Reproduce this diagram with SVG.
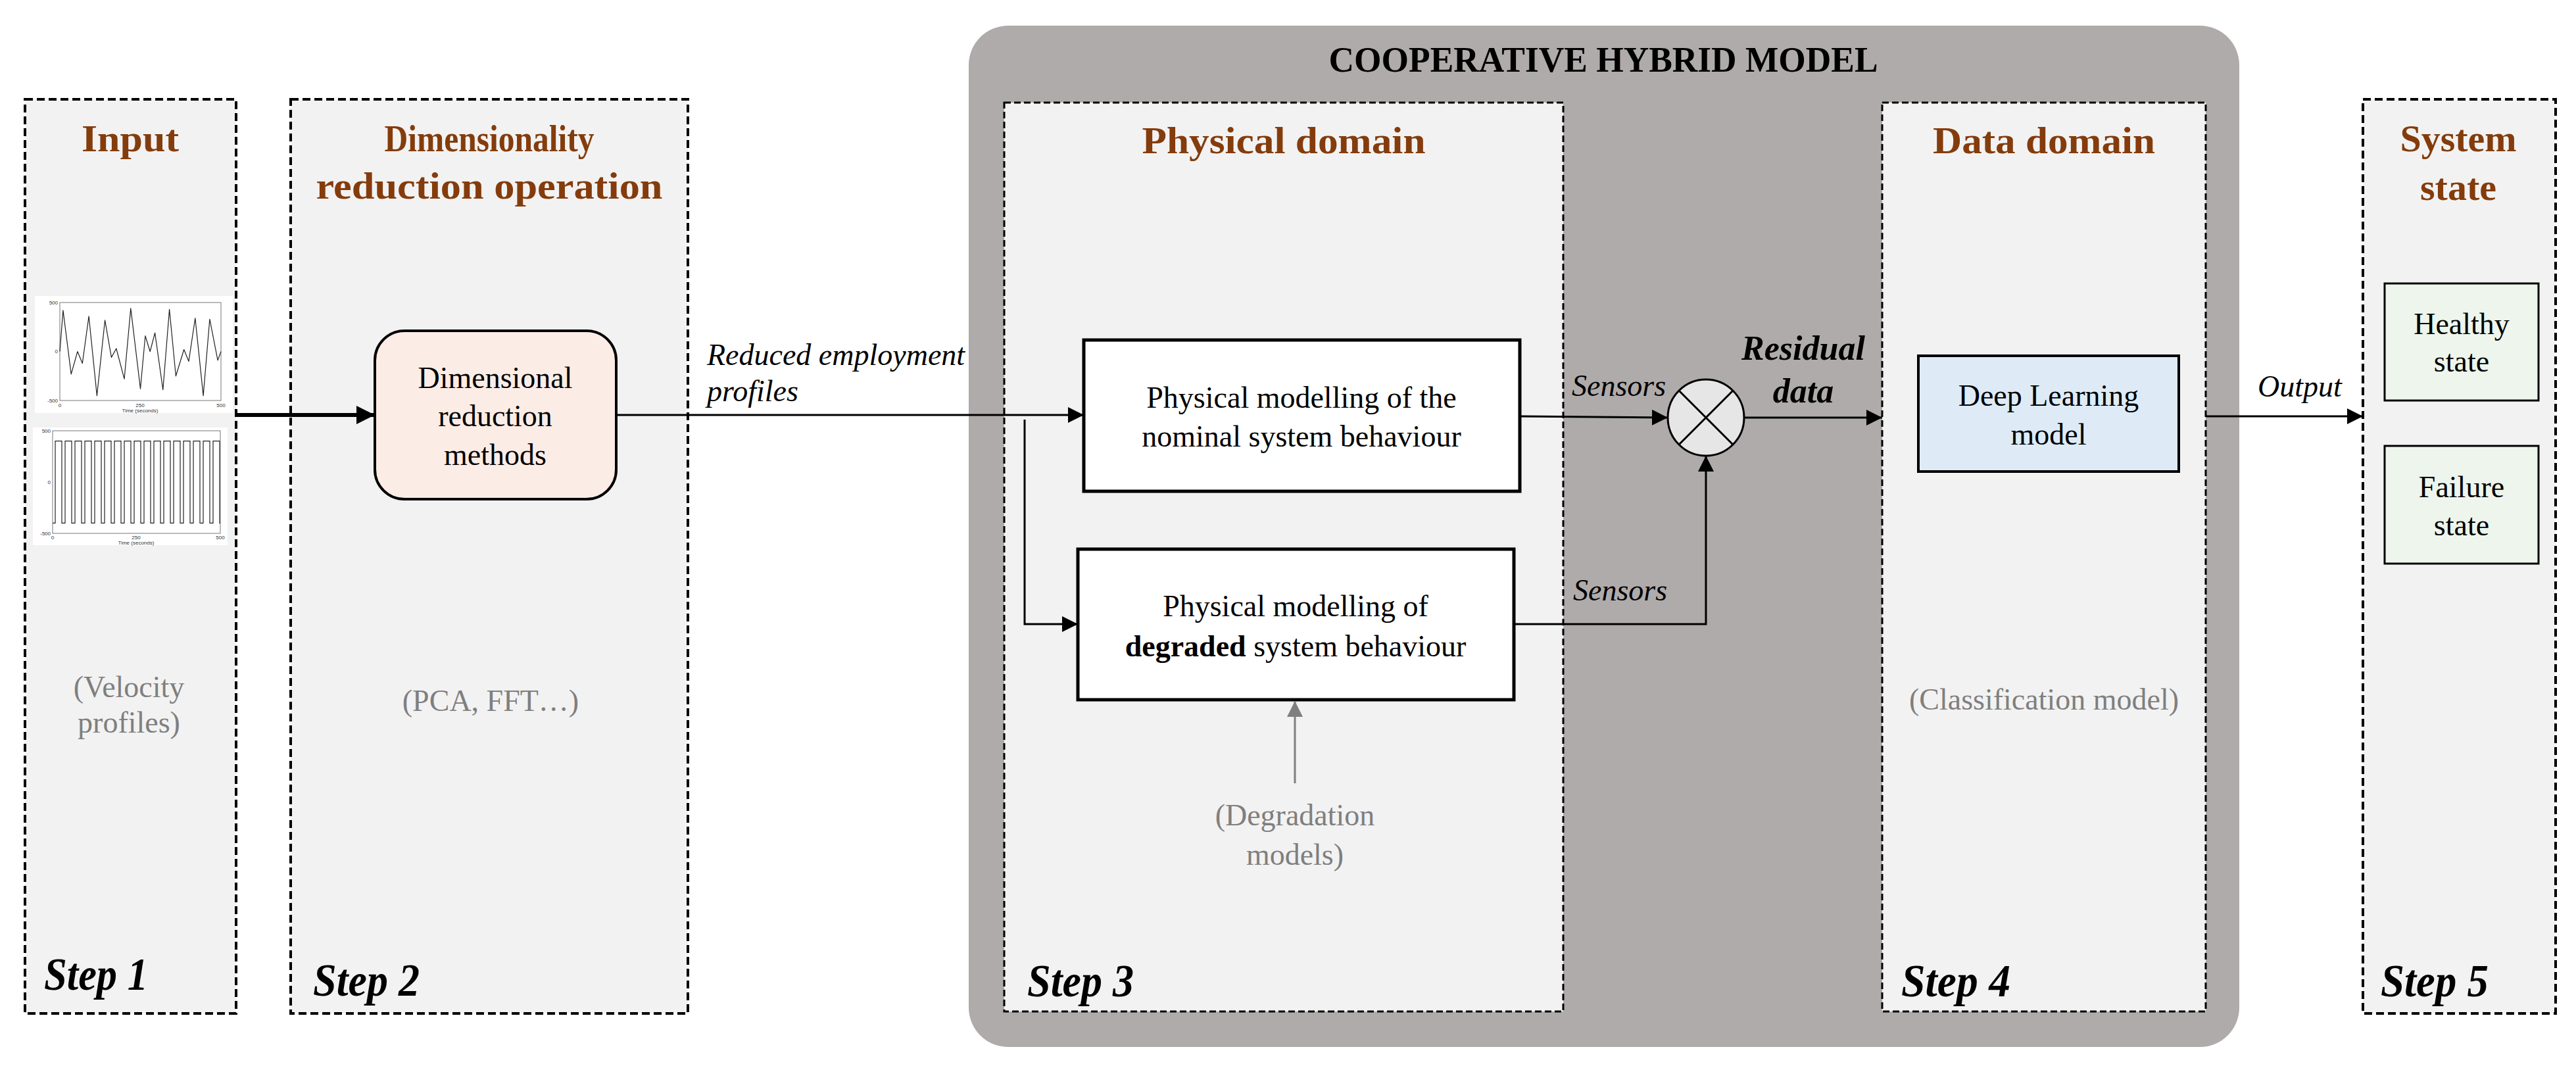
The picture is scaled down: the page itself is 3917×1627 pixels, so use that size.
<svg xmlns="http://www.w3.org/2000/svg" width="3917" height="1627" viewBox="0 0 3917 1627">
<style>
.stage{fill:#F2F2F2;stroke:#000;stroke-width:4;stroke-dasharray:12 6}
.stage2{fill:#F2F2F2;stroke:#000;stroke-width:3;stroke-dasharray:10 5}
.title{font-family:"Liberation Serif",serif;font-weight:bold;fill:#843C0C;font-size:58px;text-anchor:middle}
.step{font-family:"Liberation Serif",serif;font-weight:bold;font-style:italic;fill:#000;font-size:70px}
.t{font-family:"Liberation Serif",serif;fill:#000;font-size:46px;text-anchor:middle}
.g{font-family:"Liberation Serif",serif;fill:#7F7F7F;font-size:46px;text-anchor:middle}
.it{font-family:"Liberation Serif",serif;font-style:italic;fill:#000;font-size:46px}
.box{stroke:#000;stroke-width:5}
.ln{fill:none;stroke:#000;stroke-width:3}
.tick{font-family:"Liberation Sans",sans-serif;font-size:8px;fill:#333}
</style>
<defs>
<marker id="ah" viewBox="0 0 10 10" refX="10" refY="5" markerWidth="6" markerHeight="6" markerUnits="userSpaceOnUse" orient="auto"><path d="M0,0 L10,5 L0,10 z" fill="#000"/></marker>
<marker id="a" viewBox="0 0 10 10" refX="10" refY="5" markerWidth="24" markerHeight="24" markerUnits="userSpaceOnUse" orient="auto"><path d="M0,0 L10,5 L0,10 z" fill="#000"/></marker>
<marker id="ab" viewBox="0 0 10 10" refX="10" refY="5" markerWidth="28" markerHeight="28" markerUnits="userSpaceOnUse" orient="auto"><path d="M0,0 L10,5 L0,10 z" fill="#000"/></marker>
<marker id="ag" viewBox="0 0 10 10" refX="10" refY="5" markerWidth="24" markerHeight="24" markerUnits="userSpaceOnUse" orient="auto"><path d="M0,0 L10,5 L0,10 z" fill="#7F7F7F"/></marker>
</defs>
<rect width="3917" height="1627" fill="#fff"/>

<g id="cooperative-hybrid-model">
<rect x="1473" y="39" width="1932" height="1553" rx="60" fill="#AFABAB"/>
<text x="2438" y="109" font-family="Liberation Serif,serif" font-weight="bold" font-size="54" text-anchor="middle" textLength="835" lengthAdjust="spacingAndGlyphs">COOPERATIVE HYBRID MODEL</text>
</g>

<g id="step1-input">
<rect class="stage" x="38" y="151" width="321" height="1390"/>
<text class="title" x="198" y="230" textLength="148" lengthAdjust="spacingAndGlyphs">Input</text>
<g id="plot1">
<rect x="53" y="450" width="301" height="178" fill="#fff"/>
<rect x="91" y="460" width="245" height="149" fill="none" stroke="#555" stroke-width="0.8"/>
<polyline fill="none" stroke="#222" stroke-width="1.2" stroke-linejoin="round" points="91,534.5 95.9,471.9 108.2,568.8 117.9,534.5 125.3,552.4 135.1,480.9 147.4,601.6 159.6,486.8 169.4,543.4 176.8,530 189,576.2 198.8,468.9 213.5,591.1 220.9,510.7 228.2,534.5 235.6,506.2 247.8,592.6 257.6,470.4 267.4,571.8 279.7,531.5 287,549.4 296.8,483.8 309.1,601.6 318.9,485.3 331.1,547.9 336,534.5"/>
<text class="tick" x="88" y="463" text-anchor="end">500</text>
<text class="tick" x="88" y="537" text-anchor="end">0</text>
<text class="tick" x="88" y="612" text-anchor="end">-500</text>
<text class="tick" x="91" y="619" text-anchor="middle">0</text>
<text class="tick" x="213" y="619" text-anchor="middle">250</text>
<text class="tick" x="336" y="619" text-anchor="middle">500</text>
<text class="tick" x="213" y="627" text-anchor="middle">Time (seconds)</text>
</g>
<g id="plot2">
<rect x="50" y="650" width="296" height="179" fill="#fff"/>
<rect x="80" y="655" width="255" height="156" fill="none" stroke="#555" stroke-width="0.8"/>
<path fill="none" stroke="#222" stroke-width="1.2" d="M80,795.4 h4 v-124.8 h10 v124.8 h5 v-124.8 h10 v124.8 h5 v-124.8 h10 v124.8 h5 v-124.8 h10 v124.8 h5 v-124.8 h10 v124.8 h5 v-124.8 h10 v124.8 h5 v-124.8 h10 v124.8 h5 v-124.8 h10 v124.8 h5 v-124.8 h10 v124.8 h5 v-124.8 h10 v124.8 h5 v-124.8 h10 v124.8 h5 v-124.8 h10 v124.8 h5 v-124.8 h10 v124.8 h5 v-124.8 h10 v124.8 h5 v-124.8 h10 v124.8 h5 v-124.8 h10 v124.8 h5 v-124.8 h10 v124.8 h1"/>
<text class="tick" x="77" y="658" text-anchor="end">500</text>
<text class="tick" x="77" y="736" text-anchor="end">0</text>
<text class="tick" x="77" y="814" text-anchor="end">-500</text>
<text class="tick" x="80" y="820" text-anchor="middle">0</text>
<text class="tick" x="207" y="820" text-anchor="middle">250</text>
<text class="tick" x="335" y="820" text-anchor="middle">500</text>
<text class="tick" x="207" y="828" text-anchor="middle">Time (seconds)</text>
</g>
<text class="g" x="196" y="1060">(Velocity</text>
<text class="g" x="196" y="1114">profiles)</text>
<text class="step" x="67" y="1505" textLength="158" lengthAdjust="spacingAndGlyphs">Step 1</text>
</g>

<g id="step2-dimensionality">
<rect class="stage" x="442" y="151" width="604" height="1390"/>
<text class="title" x="744" y="230" textLength="319" lengthAdjust="spacingAndGlyphs">Dimensionality</text>
<text class="title" x="744" y="302" textLength="527" lengthAdjust="spacingAndGlyphs">reduction operation</text>
<rect x="570" y="503" width="367" height="256" rx="45" fill="#FCECE6" stroke="#000" stroke-width="4"/>
<text class="t" x="753" y="590" font-size="49">Dimensional</text>
<text class="t" x="753" y="648" font-size="49">reduction</text>
<text class="t" x="753" y="707" font-size="49">methods</text>
<text class="g" x="746" y="1081">(PCA, FFT…)</text>
<text class="step" x="476" y="1514" textLength="162" lengthAdjust="spacingAndGlyphs">Step 2</text>
</g>

<g id="step3-physical">
<rect class="stage2" x="1527" y="156" width="850" height="1382"/>
<text class="title" x="1952" y="233" textLength="431" lengthAdjust="spacingAndGlyphs">Physical domain</text>
<g id="nominal">
<rect class="box" x="1648" y="517" width="663" height="230" fill="#fff"/>
<text class="t" x="1979" y="620">Physical modelling of the</text>
<text class="t" x="1979" y="679">nominal system behaviour</text>
</g>
<g id="degraded">
<rect class="box" x="1639" y="835" width="663" height="229" fill="#fff"/>
<text class="t" x="1970" y="937">Physical modelling of</text>
<text class="t" x="1970" y="998"><tspan font-weight="bold">degraded</tspan> system behaviour</text>
</g>
<text class="g" x="1969" y="1255">(Degradation</text>
<text class="g" x="1969" y="1315">models)</text>
<text class="step" x="1562" y="1515" textLength="162" lengthAdjust="spacingAndGlyphs">Step 3</text>
</g>

<g id="step4-data">
<rect class="stage2" x="2862" y="156" width="492" height="1382"/>
<text class="title" x="3108" y="233" textLength="338" lengthAdjust="spacingAndGlyphs">Data domain</text>
<g id="deep-learning">
<rect x="2917" y="541" width="396" height="176" fill="#DEEBF7" stroke="#000" stroke-width="4"/>
<text class="t" x="3115" y="617">Deep Learning</text>
<text class="t" x="3115" y="676">model</text>
</g>
<text class="g" x="3108" y="1079">(Classification model)</text>
<text class="step" x="2891" y="1515" textLength="166" lengthAdjust="spacingAndGlyphs">Step 4</text>
</g>

<g id="step5-state">
<rect class="stage" x="3593" y="151" width="293" height="1390"/>
<text class="title" x="3738" y="230">System</text>
<text class="title" x="3738" y="304">state</text>
<g id="healthy">
<rect x="3626" y="431" width="234" height="178" fill="#EDF5EC" stroke="#000" stroke-width="3"/>
<text class="t" x="3743" y="508">Healthy</text>
<text class="t" x="3743" y="565">state</text>
</g>
<g id="failure">
<rect x="3626" y="678" width="234" height="179" fill="#EDF5EC" stroke="#000" stroke-width="3"/>
<text class="t" x="3743" y="756">Failure</text>
<text class="t" x="3743" y="814">state</text>
</g>
<text class="step" x="3620" y="1515" textLength="164" lengthAdjust="spacingAndGlyphs">Step 5</text>
</g>

<g id="residual-node">
<circle cx="2594" cy="635" r="58" fill="#E7E6E6" stroke="#000" stroke-width="3"/>
<path d="M2553,594 L2635,676 M2635,594 L2553,676" stroke="#000" stroke-width="3"/>
</g>

<g id="connectors">
<line x1="359" y1="631" x2="570" y2="631" stroke="#000" stroke-width="6" marker-end="url(#ab)"/>
<line x1="937" y1="631" x2="1648" y2="631" class="ln" stroke-width="2" marker-end="url(#a)"/>
<polyline points="1558,638 1558,949 1639,949" class="ln" marker-end="url(#a)"/>
<line x1="2311" y1="633" x2="2536" y2="635" class="ln" stroke-width="5" marker-end="url(#a)"/>
<polyline points="2302,949 2594,949 2594,693" class="ln" stroke-width="4" marker-end="url(#a)"/>
<line x1="2652" y1="635" x2="2862" y2="635" class="ln" stroke-width="2" marker-end="url(#a)"/>
<line x1="3354" y1="633" x2="3593" y2="633" class="ln" stroke-width="2" marker-end="url(#a)"/>
<line x1="1969" y1="1191" x2="1969" y2="1066" stroke="#7F7F7F" stroke-width="3" marker-end="url(#ag)"/>
</g>

<g id="labels">
<text class="it" x="1075" y="555" font-size="42">Reduced employment</text>
<text class="it" x="1075" y="610" font-size="42">profiles</text>
<text class="it" x="2390" y="602">Sensors</text>
<text class="it" x="2392" y="913">Sensors</text>
<text x="2742" y="547" font-family="Liberation Serif,serif" font-weight="bold" font-style="italic" font-size="52" text-anchor="middle">Residual</text>
<text x="2742" y="612" font-family="Liberation Serif,serif" font-weight="bold" font-style="italic" font-size="52" text-anchor="middle">data</text>
<text class="it" x="3497" y="603" font-size="48" text-anchor="middle">Output</text>
</g>
</svg>
